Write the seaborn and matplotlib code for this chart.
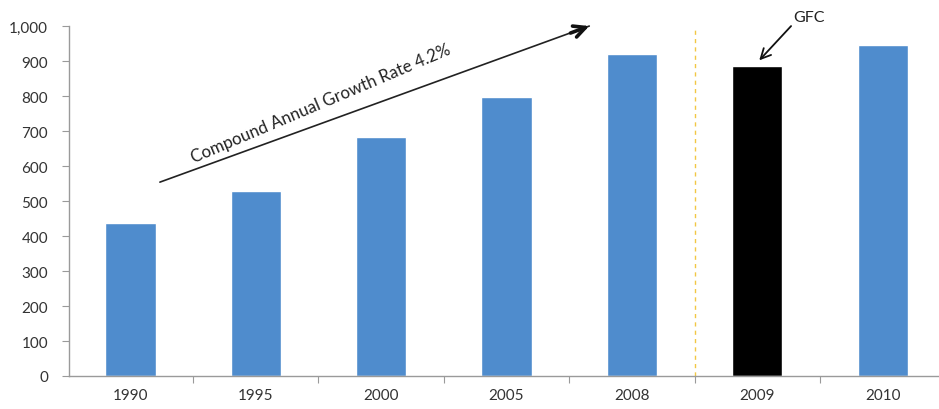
import matplotlib
matplotlib.use("Agg")
import matplotlib.pyplot as plt
import matplotlib.ticker as mticker
import pandas as pd
import seaborn as sns

# Annual values by year
years = ["1990", "1995", "2000", "2005", "2008", "2009", "2010"]
values = [437, 530, 683, 797, 920, 886, 946]
highlight_year = "2009"
y_ticks = [0, 100, 200, 300, 400, 500, 600, 700, 800, 900, 1000]
trend_label = "Compound Annual Growth Rate 4.2%"
event_label = "GFC"

blue = "#4F8CCD"
black = "#000000"

sns.set_theme(style="white")
plt.rcParams["font.family"] = ["Lato", "DejaVu Sans"]

df = pd.DataFrame({"year": years, "value": values})
palette = {y: (black if y == highlight_year else blue) for y in years}

fig = plt.figure(figsize=(9.39, 4.10), dpi=100)
ax = fig.add_axes([0.0735, 0.0805, 0.9265, 0.8535])

sns.barplot(data=df, x="year", y="value", hue="year", palette=palette,
            width=0.4, legend=False, saturation=1, ax=ax)

ax.set_ylim(0, 1000)
ax.set_xlim(-0.49, 6.45)
ax.set_yticks(y_ticks)
ax.yaxis.set_major_formatter(mticker.StrMethodFormatter("{x:,.0f}"))
ax.set_xlabel("")
ax.set_ylabel("")

for side in ["top", "right"]:
    ax.spines[side].set_visible(False)
for side in ["left", "bottom"]:
    ax.spines[side].set_color("#9a9a9a")
    ax.spines[side].set_linewidth(1.0)

ax.tick_params(axis="y", which="major", left=True, length=5, width=0.8,
               color="#9a9a9a", labelsize=11, labelcolor="#333333", pad=10)
# Category separators on the x axis
ax.set_xticks([i + 0.5 for i in range(len(years) - 1)], minor=True)
ax.tick_params(axis="x", which="major", bottom=False, labelsize=11,
               labelcolor="#333333", pad=3)
ax.tick_params(axis="x", which="minor", bottom=True, length=5, width=0.8,
               color="#9a9a9a")

# Dashed divider before the crisis year
idx = years.index(highlight_year)
ax.axvline(idx - 0.5, color="#F2C744", lw=1.0, ls=(0, (3, 3)), zorder=0)

# Growth trend arrow with rotated caption
ax.annotate("", xy=(3.66, 1000), xytext=(0.235, 554),
            arrowprops=dict(arrowstyle="-", color="#222222", lw=1.2,
                            shrinkA=0, shrinkB=0),
            annotation_clip=False)
ax.annotate("", xy=(3.66, 1000), xytext=(3.51, 980),
            arrowprops=dict(arrowstyle="->,head_length=0.7,head_width=0.35",
                            color="#111111", lw=2.6, shrinkA=0, shrinkB=0),
            annotation_clip=False)
ax.text(1.52, 780, trend_label, rotation=23, ha="center", va="center",
        fontsize=12.2, color="#222222", rotation_mode="anchor")

# Crisis callout
ax.annotate("", xy=(idx + 0.016, 902), xytext=(idx + 0.27, 1000),
            arrowprops=dict(arrowstyle="->,head_length=0.6,head_width=0.3",
                            color="#111111", lw=1.3, shrinkA=0, shrinkB=0),
            annotation_clip=False)
ax.text(idx + 0.41, 1026, event_label, ha="center", va="center",
        fontsize=11.5, color="#222222", clip_on=False)

fig.savefig("out.png", dpi=100)
